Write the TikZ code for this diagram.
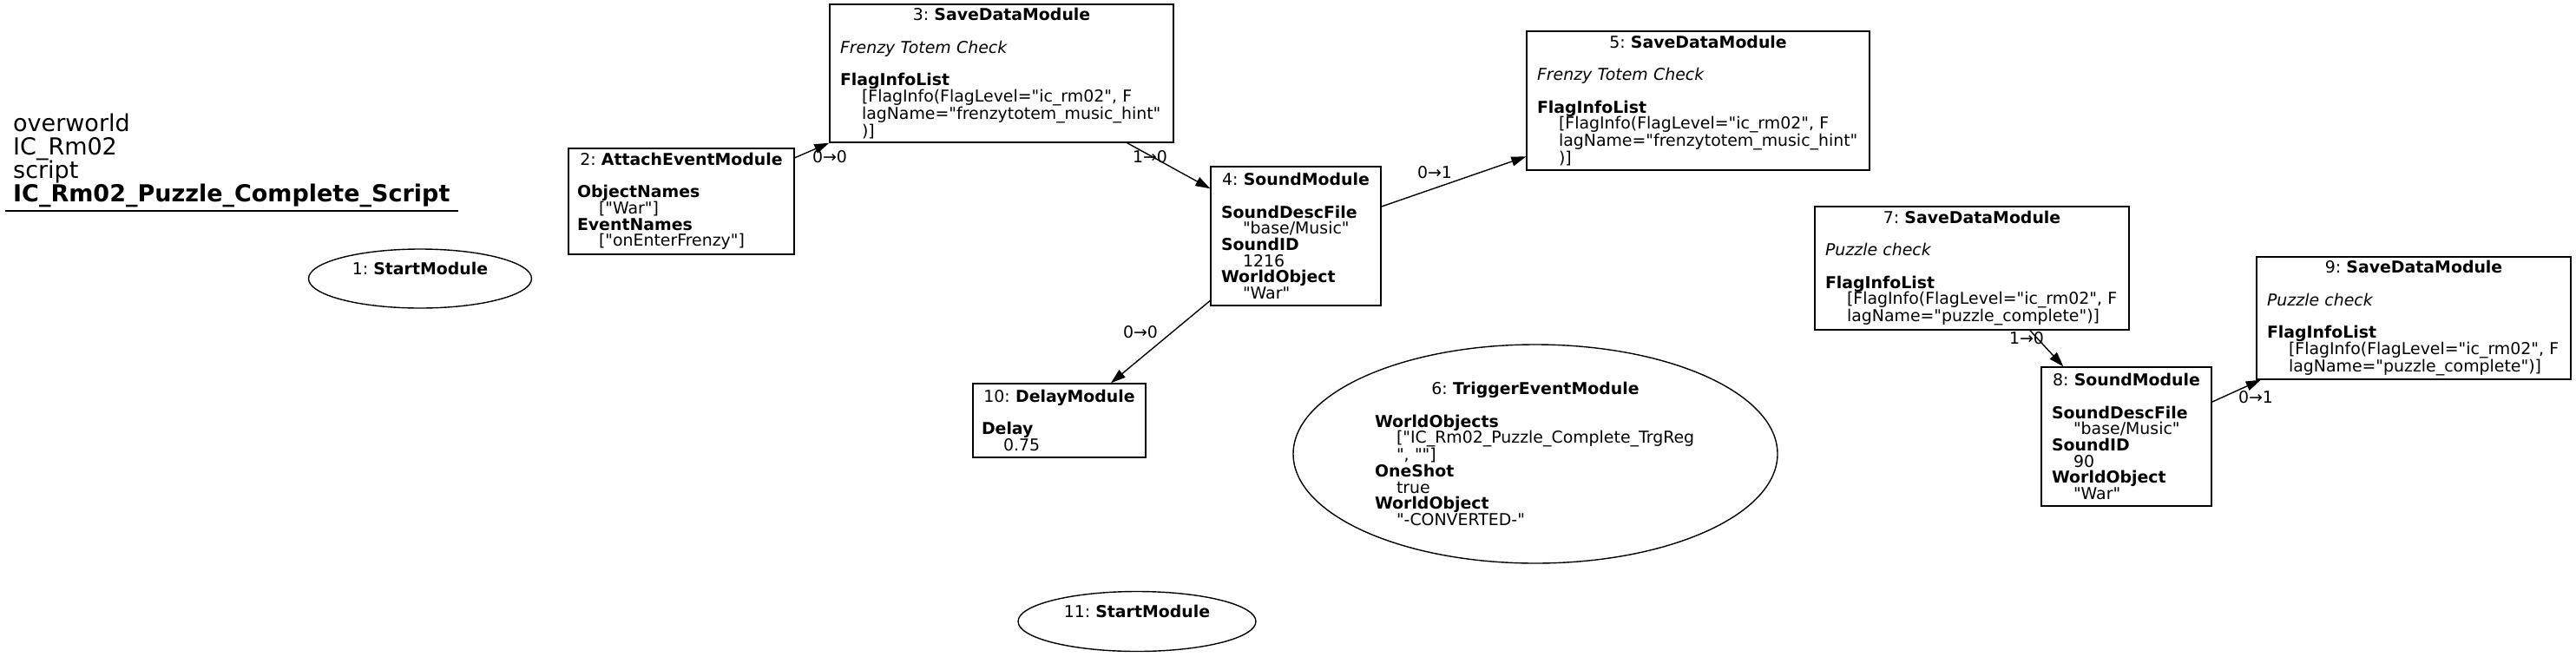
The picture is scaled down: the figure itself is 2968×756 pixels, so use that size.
\documentclass[tikz,border=0pt]{standalone}
\usepackage{fontspec}
\setmainfont{DejaVu Sans}[Ligatures=TeXOff]
\usetikzlibrary{shapes.geometric,arrows.meta}
\newcommand{\modhead}[2]{\hbox to\hsize{\hss#1: \textbf{#2}\hss}}
\newcommand{\val}[1]{\hspace*{25pt}\mbox{#1}}
\frenchspacing

\begin{document}
\begin{tikzpicture}[x=1pt,y=-1pt,
  every node/.style={font=\fontsize{18.9pt}{18.7pt}\selectfont},
  modbox/.style={draw,line width=1.4pt,rectangle,inner xsep=12pt,inner ysep=0pt,align=left},
  modoval/.style={draw,line width=1.4pt,ellipse,inner sep=0pt,align=center},
  link/.style={line width=1.4pt,-{Triangle[length=17pt,width=11pt]}},
  linklabel/.style={inner sep=0pt}]
\useasboundingbox (0,0) rectangle (2968,756);

\node[font=\fontsize{27pt}{27pt}\selectfont,align=left,anchor=south west,inner xsep=9pt,inner ysep=4pt] (title) at (6,243)
  {overworld\\IC\_Rm02\\script\\\textbf{IC\_Rm02\_Puzzle\_Complete\_Script}};
\draw[line width=1.4pt] (title.south west) -- (title.south east);

\node[modoval,minimum width=257pt,minimum height=68pt] (n1) at (484,321) {1: \textbf{StartModule}\\\strut};
\node[modoval,minimum width=274pt,minimum height=69pt] (n11) at (1310,716) {11: \textbf{StartModule}\\\strut};

\node[modbox,inner xsep=10pt,text width=240pt,minimum height=122pt] (n2) at (785,232)
  {\modhead{2}{AttachEventModule}\\[18.7pt]
   \textbf{ObjectNames}\\\val{["War"]}\\
   \textbf{EventNames}\\\val{["onEnterFrenzy"]}};
\node[modbox,text width=372pt,minimum height=159pt] (n3) at (1154,84.5)
  {\modhead{3}{SaveDataModule}\\[18.7pt]
   \textit{Frenzy Totem Check}\\[18.7pt]
   \textbf{FlagInfoList}\\
   \val{[FlagInfo(FlagLevel="ic\_rm02", F}\\
   \val{lagName="frenzytotem\_music\_hint"}\\
   \val{)]}};
\node[modbox,text width=172pt,minimum height=160pt] (n4) at (1493,272)
  {\modhead{4}{SoundModule}\\[18.7pt]
   \textbf{SoundDescFile}\\\val{"base/Music"}\\
   \textbf{SoundID}\\\val{1216}\\
   \textbf{WorldObject}\\\val{"War"}};
\node[modbox,text width=371pt,minimum height=160pt] (n5) at (1956.5,116)
  {\modhead{5}{SaveDataModule}\\[18.7pt]
   \textit{Frenzy Totem Check}\\[18.7pt]
   \textbf{FlagInfoList}\\
   \val{[FlagInfo(FlagLevel="ic\_rm02", F}\\
   \val{lagName="frenzytotem\_music\_hint"}\\
   \val{)]}};
\node[modoval,text width=370pt,minimum width=558pt,minimum height=252pt,align=left] (n6) at (1769,523)
  {\modhead{6}{TriggerEventModule}\\[18.7pt]
   \textbf{WorldObjects}\\
   \val{["IC\_Rm02\_Puzzle\_Complete\_TrgReg}\\
   \val{", ""]}\\
   \textbf{OneShot}\\\val{true}\\
   \textbf{WorldObject}\\\val{"-CONVERTED-"}};
\node[modbox,text width=338pt,minimum height=142pt] (n7) at (2272,309)
  {\modhead{7}{SaveDataModule}\\[18.7pt]
   \textit{Puzzle check}\\[18.7pt]
   \textbf{FlagInfoList}\\
   \val{[FlagInfo(FlagLevel="ic\_rm02", F}\\
   \val{lagName="puzzle\_complete")]}};
\node[modbox,text width=172pt,minimum height=160pt] (n8) at (2450,503)
  {\modhead{8}{SoundModule}\\[18.7pt]
   \textbf{SoundDescFile}\\\val{"base/Music"}\\
   \textbf{SoundID}\\\val{90}\\
   \textbf{WorldObject}\\\val{"War"}};
\node[modbox,text width=338pt,minimum height=141pt] (n9) at (2781,366.5)
  {\modhead{9}{SaveDataModule}\\[18.7pt]
   \textit{Puzzle check}\\[18.7pt]
   \textbf{FlagInfoList}\\
   \val{[FlagInfo(FlagLevel="ic\_rm02", F}\\
   \val{lagName="puzzle\_complete")]}};
\node[modbox,inner xsep=10pt,text width=179pt,minimum height=85pt] (n10) at (1220.5,484.5)
  {\modhead{10}{DelayModule}\\[18.7pt]
   \textbf{Delay}\\\val{0.75}};

\draw[link] (n2.21.8) -- (n3.south west);
\draw[link] (n3.331.5) -- (n4.151);
\draw[link] (n4.19) -- (n5.198.5);
\draw[link] (n4.217.8) -- (n10.36.5);
\draw[link] (n7.313) -- (n8.132.8);
\draw[link] (n8.22.7) -- (n9.202.6);

\node[linklabel] (l23) at (956,181) {0→0};
\node[linklabel] (l34) at (1325,181) {1→0};
\node[linklabel] (l45) at (1653,199) {0→1};
\node[linklabel] (l410) at (1314,383) {0→0};
\node[linklabel] (l78) at (2335,390) {1→0};
\node[linklabel] (l89) at (2599,458) {0→1};
\end{tikzpicture}
\end{document}
